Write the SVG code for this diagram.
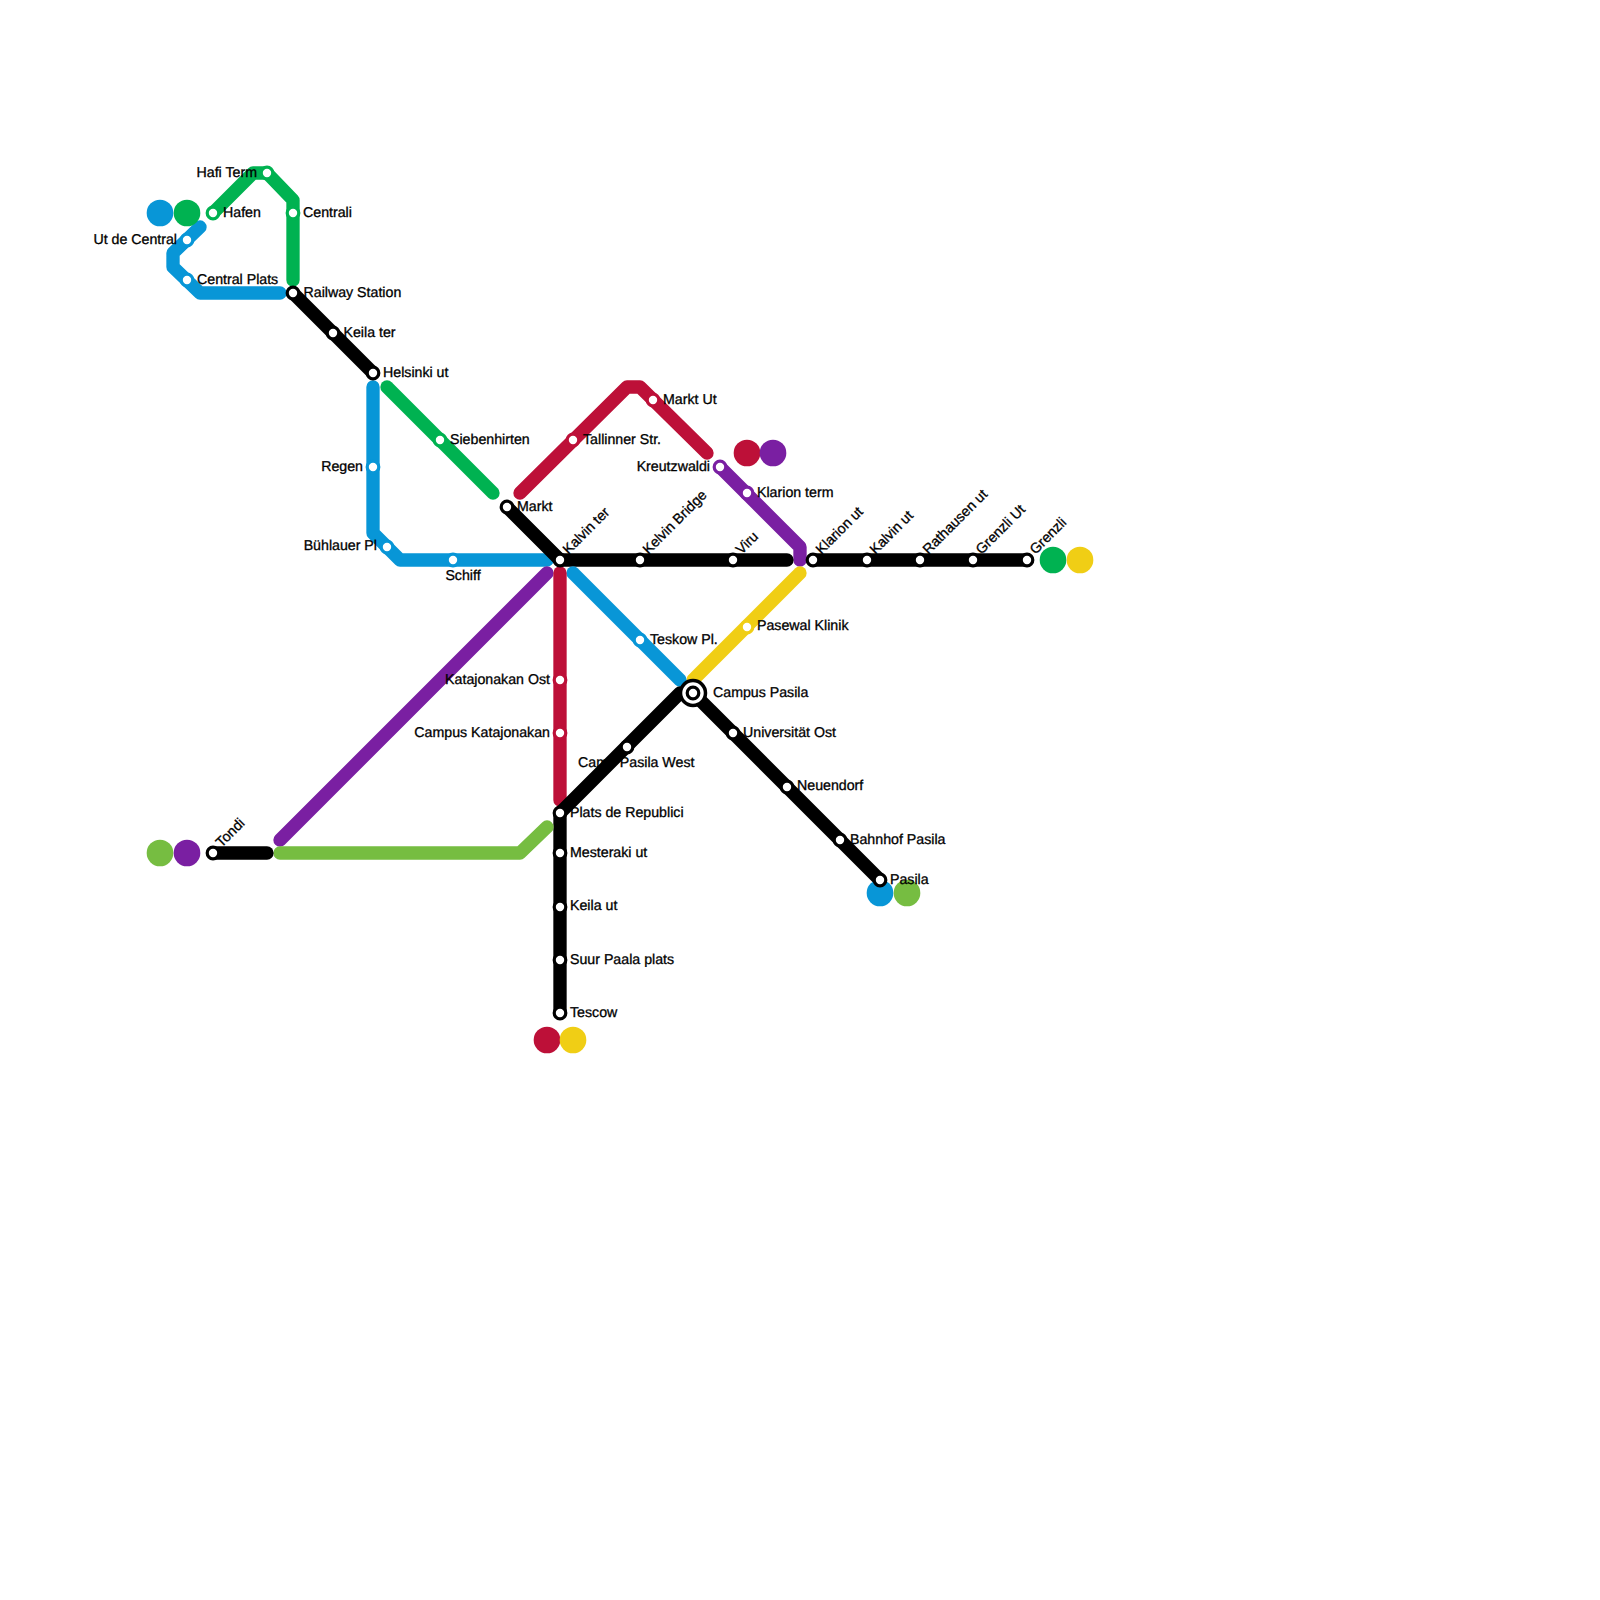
<svg xmlns="http://www.w3.org/2000/svg" width="1600" height="1600" viewBox="0 0 1600 1600">
<style>
text{font-family:"Liberation Sans",Arial,sans-serif;font-size:14.2px;fill:#000;stroke:#000;stroke-width:.3px;text-rendering:geometricPrecision}
.e{text-anchor:end}.m{text-anchor:middle}
#connectors path{fill:none;stroke-width:13.33px;stroke-linecap:round;stroke-linejoin:round}
.k{stroke:#000}.b{stroke:#0896d7}.g{stroke:#00b251}.r{stroke:#bd1038}.p{stroke:#7a1fa2}.y{stroke:#f0ce15}.o{stroke:#76bd41}
.s{fill:#fff;stroke-width:3.2px}
.sk{stroke:#000}.sb{stroke:#0896d7}.sg{stroke:#00b251}.sr{stroke:#bd1038}.sp{stroke:#7a1fa2}.sy{stroke:#f0ce15}
</style>
<g id="label-behind-line">
<text x="578" y="767">Camp Pasila West</text>
</g>
<g id="connectors">
<path class="g" d="M213 213L253 173H267L293 200V280"/>
<path class="b" d="M200 227L173 253V267L200 293H280"/>
<path class="k" d="M293 293L373 373"/>
<path class="b" d="M373 387V533L400 560H547"/>
<path class="g" d="M387 387L493 493"/>
<path class="r" d="M520 493L627 387H640L707 453"/>
<path class="p" d="M720 467L800 547V560"/>
<path class="k" d="M507 507L560 560H787"/>
<path class="k" d="M813 560H1027"/>
<path class="y" d="M800 573L693 680"/>
<path class="b" d="M573 573L680 680"/>
<path class="p" d="M547 573L280 840"/>
<path class="r" d="M560 573V800"/>
<path class="k" d="M560 1013V813L680 693"/>
<path class="k" d="M693 693L880 880"/>
<path class="o" d="M280 853H520L547 827"/>
<path class="k" d="M213 853H267"/>
</g>
<g id="line-badges">
<circle cx="160" cy="213" r="13.33" fill="#0896d7"/><circle cx="187" cy="213" r="13.33" fill="#00b251"/>
<circle cx="160" cy="853" r="13.33" fill="#76bd41"/><circle cx="187" cy="853" r="13.33" fill="#7a1fa2"/>
<circle cx="747" cy="453" r="13.33" fill="#bd1038"/><circle cx="773" cy="453" r="13.33" fill="#7a1fa2"/>
<circle cx="1053" cy="560" r="13.33" fill="#00b251"/><circle cx="1080" cy="560" r="13.33" fill="#f0ce15"/>
<circle cx="880" cy="893" r="13.33" fill="#0896d7"/><circle cx="907" cy="893" r="13.33" fill="#76bd41"/>
<circle cx="547" cy="1040" r="13.33" fill="#bd1038"/><circle cx="573" cy="1040" r="13.33" fill="#f0ce15"/>
</g>
<g id="n-hafen"><circle class="s sg" cx="213" cy="213" r="5.8"/><text x="223" y="217">Hafen</text></g>
<g id="n-hafi"><circle class="s sg" cx="267" cy="173" r="5.8"/><text x="257" y="177" class="e">Hafi Term</text></g>
<g id="n-centrali"><circle class="s sg" cx="293" cy="213" r="5.8"/><text x="303" y="217">Centrali</text></g>
<g id="n-utde"><circle class="s sb" cx="187" cy="240" r="5.8"/><text x="177" y="243.5" class="e">Ut de Central</text></g>
<g id="n-cplats"><circle class="s sb" cx="187" cy="280" r="5.8"/><text x="197" y="283.5">Central Plats</text></g>
<g id="n-railway"><circle class="s sk" cx="293" cy="293" r="5.8"/><text x="303.5" y="297">Railway Station</text></g>
<g id="n-keila"><circle class="s sk" cx="333" cy="333" r="5.8"/><text x="343.5" y="337">Keila ter</text></g>
<g id="n-helsinki"><circle class="s sk" cx="373" cy="373" r="5.8"/><text x="383" y="377">Helsinki ut</text></g>
<g id="n-regen"><circle class="s sb" cx="373" cy="467" r="5.8"/><text x="363" y="470.5" class="e">Regen</text></g>
<g id="n-buhl"><circle class="s sb" cx="387" cy="547" r="5.8"/><text x="377" y="550" class="e">Bühlauer Pl</text></g>
<g id="n-schiff"><circle class="s sb" cx="453" cy="560" r="5.8"/><text x="463" y="580" class="m">Schiff</text></g>
<g id="n-sieben"><circle class="s sg" cx="440" cy="440" r="5.8"/><text x="450" y="443.5">Siebenhirten</text></g>
<g id="n-markt"><circle class="s sk" cx="507" cy="507" r="5.8"/><text x="517" y="510.5">Markt</text></g>
<g id="n-tallinner"><circle class="s sr" cx="573" cy="440" r="5.8"/><text x="583" y="443.5">Tallinner Str.</text></g>
<g id="n-marktut"><circle class="s sr" cx="653" cy="400" r="5.8"/><text x="663" y="403.5">Markt Ut</text></g>
<g id="n-kreutz"><circle class="s sp" cx="720" cy="467" r="5.8"/><text x="710" y="470.5" class="e">Kreutzwaldi</text></g>
<g id="n-klarionterm"><circle class="s sp" cx="747" cy="493" r="5.8"/><text x="757" y="496.5">Klarion term</text></g>
<g id="n-pasewal"><circle class="s sy" cx="747" cy="627" r="5.8"/><text x="757" y="630">Pasewal Klinik</text></g>
<g id="n-teskow"><circle class="s sb" cx="640" cy="640" r="5.8"/><text x="650" y="643.5">Teskow Pl.</text></g>
<g id="n-campus"><circle cx="693" cy="693" r="12.5" fill="#fff" stroke="#000" stroke-width="3.5"/><circle class="s sk" cx="693" cy="693" r="5.8"/><text x="713" y="697">Campus Pasila</text></g>
<g id="n-uni"><circle class="s sk" cx="733" cy="733" r="5.8"/><text x="743" y="737">Universität Ost</text></g>
<g id="n-neuen"><circle class="s sk" cx="787" cy="787" r="5.8"/><text x="797" y="790">Neuendorf</text></g>
<g id="n-bahnhof"><circle class="s sk" cx="840" cy="840" r="5.8"/><text x="850" y="843.5">Bahnhof Pasila</text></g>
<g id="n-pasila"><circle class="s sk" cx="880" cy="880" r="5.8"/><text x="890" y="883.5">Pasila</text></g>
<g id="n-cpw"><circle class="s sk" cx="627" cy="747" r="5.8"/></g>
<g id="n-plats"><circle class="s sk" cx="560" cy="813" r="5.8"/><text x="570" y="816.5">Plats de Republici</text></g>
<g id="n-mest"><circle class="s sk" cx="560" cy="853" r="5.8"/><text x="570" y="857">Mesteraki ut</text></g>
<g id="n-keilaut"><circle class="s sk" cx="560" cy="907" r="5.8"/><text x="570" y="910">Keila ut</text></g>
<g id="n-suur"><circle class="s sk" cx="560" cy="960" r="5.8"/><text x="570" y="963.5">Suur Paala plats</text></g>
<g id="n-tescow"><circle class="s sk" cx="560" cy="1013" r="5.8"/><text x="570" y="1016.5">Tescow</text></g>
<g id="n-katost"><circle class="s sr" cx="560" cy="680" r="5.8"/><text x="550" y="683.5" class="e">Katajonakan Ost</text></g>
<g id="n-katcamp"><circle class="s sr" cx="560" cy="733" r="5.8"/><text x="550" y="737" class="e">Campus Katajonakan</text></g>
<g id="n-kalvinter"><circle class="s sk" cx="560" cy="560" r="5.8"/><text transform="translate(568.5,555) rotate(-45)">Kalvin ter</text></g>
<g id="n-kelvin"><circle class="s sk" cx="640" cy="560" r="5.8"/><text transform="translate(648.5,555) rotate(-45)">Kelvin Bridge</text></g>
<g id="n-viru"><circle class="s sk" cx="733" cy="560" r="5.8"/><text transform="translate(741.5,555) rotate(-45)">Viru</text></g>
<g id="n-klarionut"><circle class="s sk" cx="813" cy="560" r="5.8"/><text transform="translate(821.5,555) rotate(-45)">Klarion ut</text></g>
<g id="n-kalvinut"><circle class="s sk" cx="867" cy="560" r="5.8"/><text transform="translate(875.5,555) rotate(-45)">Kalvin ut</text></g>
<g id="n-rath"><circle class="s sk" cx="920" cy="560" r="5.8"/><text transform="translate(928.5,555) rotate(-45)">Rathausen ut</text></g>
<g id="n-grenzliut"><circle class="s sk" cx="973" cy="560" r="5.8"/><text transform="translate(981.5,555) rotate(-45)">Grenzli Ut</text></g>
<g id="n-grenzli"><circle class="s sk" cx="1027" cy="560" r="5.8"/><text transform="translate(1035.5,555) rotate(-45)">Grenzli</text></g>
<g id="n-tondi"><circle class="s sk" cx="213" cy="853" r="5.8"/><text transform="translate(221.5,848) rotate(-45)">Tondi</text></g>
</svg>
